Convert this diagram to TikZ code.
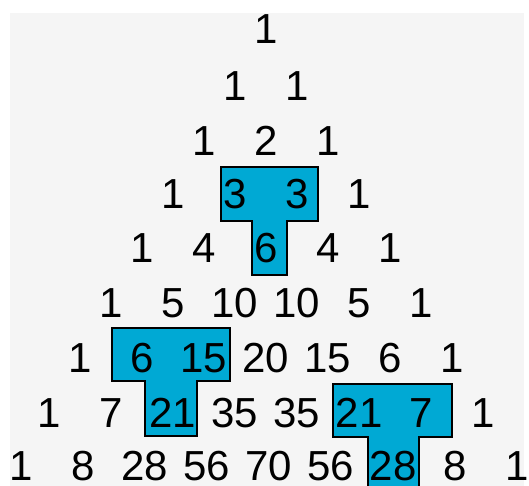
\documentclass[tikz,border=0pt]{standalone}
\usepackage{fontspec}
\setmainfont{Liberation Sans}
\definecolor{bgray}{HTML}{F5F5F5}
\definecolor{tblue}{RGB}{0,169,212}
\tikzset{
  num/.style={anchor=base, inner sep=0pt, font=\fontsize{42}{42}\selectfont},
  tshape/.style={fill=tblue, draw=black, line width=2pt, line join=miter}
}
\begin{document}
\begin{tikzpicture}[x=1pt,y=-1pt]
\useasboundingbox (0,0) rectangle (529,485);
\clip (0,0) rectangle (529,485);
\fill[bgray] (10,13) rectangle (524,490);
% highlighted T shapes
\draw[tshape] (221,167) -- (318,167) -- (318,221) -- (287,221) -- (287,275) -- (252,275) -- (252,221) -- (221,221) -- cycle;
\draw[tshape] (112,328) -- (230,328) -- (230,381) -- (197,381) -- (197,436) -- (145,436) -- (145,381) -- (112,381) -- cycle;
\draw[tshape] (333,384) -- (452,384) -- (452,437) -- (419,437) -- (419,500) -- (368,500) -- (368,437) -- (333,437) -- cycle;
% Pascal's triangle
\foreach \r/\y/\dx/\vals in {
  0/43/0/{1},
  1/100/0/{1,1},
  2/155/0/{1,2,1},
  3/208/0/{1,3,3,1},
  4/262/0/{1,4,6,4,1},
  5/317/0/{1,5,10,10,5,1},
  6/372/0/{1,6,15,20,15,6,1},
  7/427/0/{1,7,21,35,35,21,7,1},
  8/480/3/{1,8,28,56,70,56,28,8,1}} {
  \foreach \v [count=\k from 0] in \vals {
    \node[num] (n\r-\k) at ({266+\dx+62*(\k-\r/2)}, \y) {\v};
  }
}
\end{tikzpicture}
\end{document}
